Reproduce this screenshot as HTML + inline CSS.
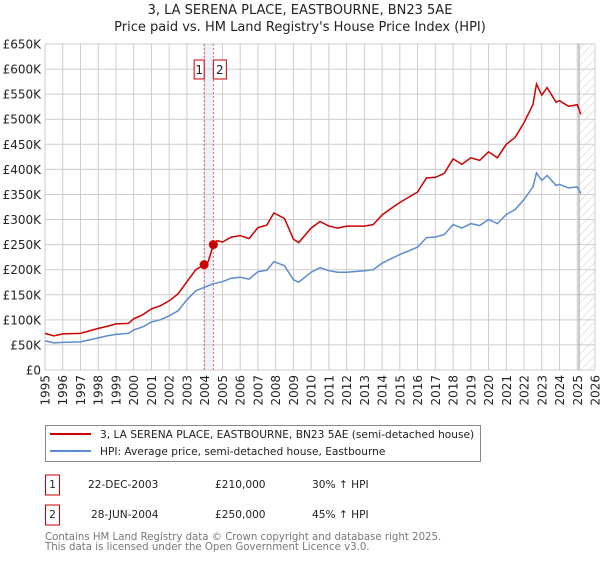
<!DOCTYPE html>
<html><head><meta charset="utf-8"><style>
body{margin:0;background:#fff;font-family:"DejaVu Sans","Liberation Sans",sans-serif;}
svg text{font-family:"DejaVu Sans","Liberation Sans",sans-serif;}
</style></head><body>
<svg id="c" width="600" height="560" viewBox="0 0 600 560" xmlns="http://www.w3.org/2000/svg">
<defs><pattern id="hatch" width="6" height="6" patternUnits="userSpaceOnUse" patternTransform="rotate(45)"><line x1="0" y1="0" x2="0" y2="6" stroke="#ccc" stroke-width="1"/></pattern></defs>
<text x="300" y="14" text-anchor="middle" font-size="13" fill="#222">3, LA SERENA PLACE, EASTBOURNE, BN23 5AE</text>
<text x="300" y="31" text-anchor="middle" font-size="13" fill="#222">Price paid vs. HM Land Registry's House Price Index (HPI)</text>
<g id="grid"></g><g id="marks"></g><g id="axes"></g>
<rect x="45.5" y="425.5" width="435" height="36" fill="#fff" stroke="#888"/>
<line x1="50" y1="434" x2="91" y2="434" stroke="#cc0000" stroke-width="2"/>
<text x="100" y="438" font-size="10.6" fill="#222">3, LA SERENA PLACE, EASTBOURNE, BN23 5AE (semi-detached house)</text>
<line x1="50" y1="451" x2="91" y2="451" stroke="#5b8ccf" stroke-width="2"/>
<text x="100" y="455" font-size="10.6" fill="#222">HPI: Average price, semi-detached house, Eastbourne</text>
<g>
<rect x="45.5" y="475" width="14" height="20" fill="none" stroke="#cc0000"/>
<text x="52.5" y="488" text-anchor="middle" font-size="10.6" fill="#222">1</text>
<text x="88" y="488" font-size="10.6" fill="#222">22-DEC-2003</text>
<text x="215" y="488" font-size="10.6" fill="#222">£210,000</text>
<text x="312" y="488" font-size="10.6" fill="#222">30% ↑ HPI</text></g>
<g>
<rect x="45.5" y="505" width="14" height="20" fill="none" stroke="#cc0000"/>
<text x="52.5" y="518" text-anchor="middle" font-size="10.6" fill="#222">2</text>
<text x="91" y="518" font-size="10.6" fill="#222">28-JUN-2004</text>
<text x="215" y="518" font-size="10.6" fill="#222">£250,000</text>
<text x="312" y="518" font-size="10.6" fill="#222">45% ↑ HPI</text></g>
<text x="45" y="540" font-size="10.2" fill="#777">Contains HM Land Registry data © Crown copyright and database right 2025.</text>
<text x="45" y="550" font-size="10.2" fill="#777">This data is licensed under the Open Government Licence v3.0.</text>
</svg>
<script>
const yTicks=[0,50,100,150,200,250,300,350,400,450,500,550,600,650];
const yTickLabels=["£0","£50K","£100K","£150K","£200K","£250K","£300K","£350K","£400K","£450K","£500K","£550K","£600K","£650K"];
const xYears=[1995,1996,1997,1998,1999,2000,2001,2002,2003,2004,2005,2006,2007,2008,2009,2010,2011,2012,2013,2014,2015,2016,2017,2018,2019,2020,2021,2022,2023,2024,2025,2026];
const hpiT=[1995,1995.5,1996,1997,1998,1998.5,1999,1999.7,2000,2000.5,2001,2001.5,2002,2002.5,2003,2003.5,2004,2004.5,2005,2005.5,2006,2006.5,2007,2007.5,2007.9,2008.5,2009,2009.3,2010,2010.5,2011,2011.5,2012,2013,2013.5,2014,2014.5,2015,2016,2016.5,2017,2017.5,2018,2018.5,2019,2019.5,2020,2020.5,2021,2021.5,2022,2022.5,2022.7,2023,2023.3,2023.8,2024,2024.5,2025,2025.2];
const hpiV=[58,54,55,56,64,68,71,73,80,86,96,100,108,118,140,158,165,172,176,183,185,181,196,199,216,208,180,175,195,204,198,195,195,198,200,213,222,230,245,264,265,270,290,283,292,288,300,292,310,320,340,365,393,378,388,368,370,363,365,352];
const propT=[1995,1995.5,1996,1997,1998,1998.5,1999,1999.7,2000,2000.5,2001,2001.5,2002,2002.5,2003,2003.5,2003.97,2004.2,2004.49,2004.7,2005,2005.5,2006,2006.5,2007,2007.5,2007.9,2008.5,2009,2009.3,2010,2010.5,2011,2011.5,2012,2013,2013.5,2014,2014.5,2015,2016,2016.5,2017,2017.5,2018,2018.5,2019,2019.5,2020,2020.5,2021,2021.5,2022,2022.5,2022.7,2023,2023.3,2023.8,2024,2024.5,2025,2025.2];
const propV=[73,68,72,73,83,87,92,93,102,110,122,128,138,152,176,200,210,216,250,258,255,265,268,262,284,289,313,302,261,254,283,296,287,283,287,287,290,309,322,334,355,383,384,392,421,410,423,418,435,423,450,464,493,529,570,548,563,534,537,526,529,510];
const saleT=[2003.97,2004.49];
const saleV=[210,250];
const saleLabels=["1","2"];
const X0=45,X1=595,Y0=370,Y1=44;
const x=t=>X0+(t-1995)/(2026-1995)*(X1-X0);
const y=v=>Y0-v/650*(Y0-Y1);
const NS="http://www.w3.org/2000/svg";
function mk(p,tag,a){const e=document.createElementNS(NS,tag);for(const k in a)e.setAttribute(k,a[k]);p.appendChild(e);return e;}
const grid=document.getElementById('grid'),marks=document.getElementById('marks'),axes=document.getElementById('axes');
let band=mk(grid,'rect',{x:x(saleT[0]),y:Y1,width:x(saleT[1])-x(saleT[0]),height:Y0-Y1,fill:'#eef2fb'});


let hat=mk(grid,'rect',{x:x(2025.1),y:Y1,width:X1-x(2025.1),height:Y0-Y1,fill:'url(#hatch)'});


yTicks.forEach((v,i)=>{
 const l=mk(grid,'line',{x1:X0,x2:X1,y1:y(v),y2:y(v),stroke:'#ccc','stroke-width':1});
 
 
 const t=mk(axes,'text',{x:41,y:y(v)+4.5,'text-anchor':'end','font-size':12,fill:'#222'});
 t.textContent=yTickLabels[i];
 
 
});
xYears.forEach(yr=>{
 const l=mk(grid,'line',{x1:x(yr),x2:x(yr),y1:Y1,y2:Y0,stroke:'#ccc','stroke-width':1});
 
 
 const t=mk(axes,'text',{x:0,y:0,'text-anchor':'end','font-size':12,fill:'#222',transform:`translate(${x(yr)+4.5},375) rotate(-90)`});
 t.textContent=yr;
 
 
});
const vl=mk(grid,'line',{x1:x(2025.1),x2:x(2025.1),y1:Y1,y2:Y0,stroke:'#999','stroke-width':1});


saleT.forEach((t,i)=>{
 const l=mk(grid,'line',{x1:x(t),x2:x(t),y1:Y1,y2:Y0,stroke:'#e06666','stroke-width':1,'stroke-dasharray':'2,2'});
 
 
});
const path=(T,V)=>T.map((t,i)=>(i?'L':'M')+x(t).toFixed(1)+','+y(V[i]).toFixed(1)).join('');
const hp=mk(marks,'path',{d:path(hpiT,hpiV),fill:'none',stroke:'#5b8ccf','stroke-width':1.5});


const pp=mk(marks,'path',{d:path(propT,propV),fill:'none',stroke:'#cc0000','stroke-width':1.5});


saleT.forEach((t,i)=>{
 const c=mk(marks,'circle',{cx:x(t),cy:y(saleV[i]),r:4.5,fill:'#cc0000'});
 
 
 const w=i==0?10:13, bx=i==0?x(t)-10:x(t);
 const r=mk(marks,'rect',{x:bx,y:60,width:w,height:19,fill:'#fff',stroke:'#cc0000'});
 
 
 const tx=mk(marks,'text',{x:bx+w/2,y:74,'text-anchor':'middle','font-size':12,fill:'#222'});
 tx.textContent=saleLabels[i];
 
 
});
</script>
</body></html>
